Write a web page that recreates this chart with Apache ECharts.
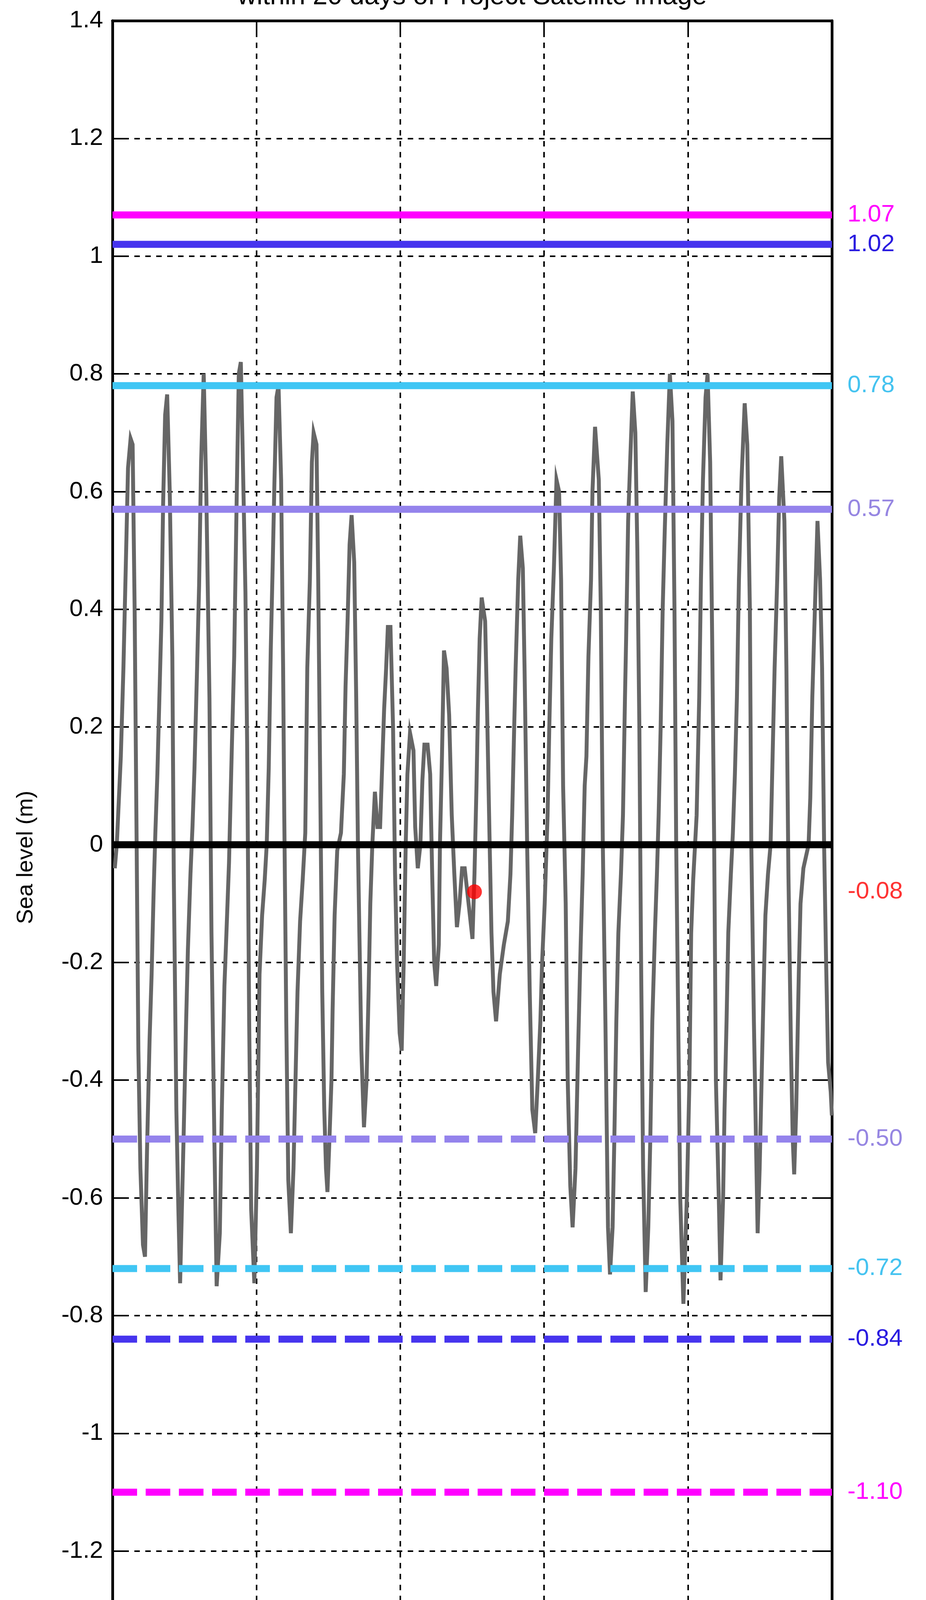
<!DOCTYPE html>
<html><head><meta charset="utf-8">
<script src="https://cdn.jsdelivr.net/npm/echarts@6/dist/echarts.min.js"></script>
<style>html,body{margin:0;padding:0;background:#fff}#c{width:2371px;height:4462px}</style>
</head><body><div id="c"></div>
<script>
// ---------- data ----------
const titleText = 'within 20 days of Project Satellite image';
const xTickLabels = ['07/01/2012','12/01/2012','17/01/2012','22/01/2012','27/01/2012','01/02/2012'];
const xMin = 0, xMax = 25, xStep = 5;           // days since 07/01/2012
const yMin = -1.4, yMax = 1.4, yStep = 0.2;

// days since 07/01/2012 00:00
const tideDay = [
0.08,0.15,0.29,0.38,0.475,0.54,0.63,0.70,0.77,0.84,0.90,0.97,1.06,1.13,1.20,1.29,1.36,1.43,1.49,1.56,
1.63,1.70,1.76,1.83,1.90,1.99,2.08,2.13,2.22,2.29,2.35,2.47,2.56,2.62,2.71,2.78,2.85,2.94,3.01,3.08,
3.17,3.26,3.37,3.44,3.55,3.62,3.73,3.80,3.89,3.96,4.05,4.14,4.23,4.32,4.39,4.46,4.52,4.62,4.68,4.75,
4.82,4.93,5.02,5.11,5.20,5.29,5.36,5.43,5.50,5.57,5.63,5.70,5.77,5.86,5.93,5.97,6.04,6.11,6.20,6.29,
6.36,6.43,6.52,6.61,6.70,
6.77,6.86,6.93,6.99,7.09,7.15,7.22,7.29,7.36,7.42,7.47,7.54,7.61,7.65,7.72,7.81,7.94,8.04,8.10,8.17,
8.24,8.31,8.40,8.47,8.53,8.58,8.65,8.74,8.83,8.90,8.96,9.03,9.12,9.21,9.30,9.37,9.44,9.51,9.57,9.66,
9.75,9.82,9.89,9.98,10.05,10.12,10.19,10.25,10.34,10.46,10.52,10.61,10.70,10.77,10.84,10.95,11.04,11.11,11.18,11.25,
11.34,11.38,11.45,11.52,11.61,11.70,11.79,11.88,11.97,12.06,12.15,12.24,12.33,12.42,12.51,12.58,12.65,12.70,12.76,12.83,
12.95,13.01,13.10,13.17,13.24,13.33,
13.46,13.60,13.74,13.83,13.89,13.96,14.01,14.10,14.17,14.26,14.32,14.41,14.50,14.59,14.69,14.78,14.87,14.93,15.02,15.12,
15.18,15.25,15.34,15.43,15.52,15.59,15.66,15.75,15.82,15.91,15.99,16.09,16.18,16.27,16.34,16.41,16.47,16.54,16.63,16.68,
16.77,16.90,16.97,17.04,17.13,17.22,17.29,17.38,17.44,17.51,17.58,17.67,17.74,17.81,17.85,17.92,17.99,18.08,18.17,18.24,
18.31,18.37,18.44,18.53,18.62,18.69,18.76,18.85,18.92,18.98,19.05,19.12,19.19,19.28,19.37,
19.46,19.53,19.59,19.66,19.73,19.84,19.96,20.05,20.11,20.18,20.30,20.39,20.45,20.52,20.61,20.68,20.77,20.84,20.91,20.97,
21.07,21.13,21.22,21.27,21.34,21.40,21.49,21.56,21.63,21.70,21.77,21.86,21.97,22.06,22.15,22.20,22.29,22.38,22.42,22.49,
22.58,22.65,22.69,22.78,22.87,22.94,23.01,23.10,23.17,23.24,23.35,23.42,23.49,23.58,23.64,23.69,23.76,23.85,23.91,24.01,
24.10,24.19,24.25,24.32,24.41,24.50,24.59,24.66,24.73,24.80,24.87,24.96,25.00
];
// sea level (m)
const tideLevel = [
-0.04,0.00,0.15,0.30,0.50,0.64,0.69,0.68,0.40,0.00,-0.35,-0.55,-0.68,-0.70,-0.52,-0.33,-0.22,-0.08,0.02,0.12,
0.25,0.38,0.58,0.73,0.765,0.60,0.32,-0.05,-0.45,-0.62,-0.745,-0.50,-0.30,-0.18,-0.05,0.03,0.13,0.30,0.44,0.65,
0.80,0.60,0.25,-0.15,-0.53,-0.75,-0.66,-0.45,-0.24,-0.15,-0.03,0.15,0.32,0.60,0.80,0.82,0.68,0.43,0.17,-0.30,
-0.62,-0.745,-0.55,-0.22,-0.12,-0.06,0.00,0.13,0.33,0.48,0.62,0.76,0.78,0.62,0.30,0.05,-0.30,-0.57,-0.66,-0.55,
-0.40,-0.25,-0.13,-0.06,0.02,
0.30,0.45,0.65,0.70,0.68,0.45,0.10,-0.25,-0.45,-0.55,-0.59,-0.50,-0.40,-0.28,-0.12,-0.01,0.02,0.12,0.27,0.38,
0.51,0.56,0.48,0.25,0.00,-0.15,-0.35,-0.48,-0.40,-0.25,-0.10,0.00,0.09,0.03,0.03,0.13,0.23,0.30,0.37,0.37,
0.20,-0.05,-0.20,-0.32,-0.35,-0.20,0.00,0.12,0.19,0.16,0.03,-0.04,0.00,0.11,0.17,0.17,0.12,-0.05,-0.20,-0.24,
-0.17,0.00,0.15,0.33,0.30,0.22,0.05,-0.05,-0.14,-0.10,-0.04,-0.04,-0.08,-0.12,-0.16,-0.05,0.10,0.23,0.35,0.42,
0.38,0.25,0.02,-0.15,-0.25,-0.30,
-0.22,-0.17,-0.13,-0.05,0.05,0.20,0.30,0.45,0.525,0.47,0.30,0.00,-0.25,-0.45,-0.49,-0.40,-0.30,-0.20,-0.10,0.05,
0.20,0.35,0.47,0.62,0.60,0.45,0.10,-0.10,-0.40,-0.58,-0.65,-0.55,-0.35,-0.17,-0.05,0.10,0.15,0.32,0.45,0.60,
0.71,0.62,0.40,0.00,-0.30,-0.65,-0.73,-0.65,-0.50,-0.30,-0.15,-0.05,0.05,0.25,0.35,0.55,0.65,0.77,0.70,0.50,
0.20,-0.20,-0.55,-0.76,-0.65,-0.50,-0.30,-0.15,-0.05,0.05,0.20,0.40,0.53,0.68,0.80,
0.72,0.40,0.00,-0.30,-0.60,-0.78,-0.60,-0.40,-0.15,-0.06,0.05,0.25,0.45,0.62,0.76,0.80,0.65,0.35,0.00,-0.40,
-0.60,-0.74,-0.60,-0.45,-0.30,-0.15,-0.05,0.02,0.12,0.25,0.45,0.62,0.75,0.68,0.40,0.00,-0.30,-0.55,-0.66,-0.55,
-0.35,-0.20,-0.12,-0.05,0.00,0.15,0.30,0.45,0.59,0.66,0.55,0.30,-0.05,-0.35,-0.50,-0.56,-0.45,-0.22,-0.10,-0.04,
-0.02,0.00,0.08,0.25,0.40,0.55,0.45,0.30,0.00,-0.20,-0.37,-0.42,-0.46
];

const thresholdLevels = [1.07, 1.02, 0.78, 0.57, -0.50, -0.72, -0.84, -1.10];
const thresholdLineColors = ['#FF00FF','#4634EE','#40C6F4','#9483EC','#9483EC','#40C6F4','#4634EE','#FF00FF'];
const thresholdTextColors = ['#FF00FF','#2A1CE0','#45C3F0','#9686E2','#9686E2','#45C3F0','#2A1CE0','#FF00FF'];
const thresholdDashed = [false,false,false,false,true,true,true,true];
const referenceLevel = 0;
const satelliteDay = 12.58;
const satelliteLevel = -0.08;

// ---------- chart ----------
const FONT = 'Liberation Sans, Arial, sans-serif';
const chart = echarts.init(document.getElementById('c'), null, {renderer: 'canvas'});

const tidePoints = tideDay.map((d, i) => [d, tideLevel[i]]);

const series = [{
  type: 'line', name: 'tide', data: tidePoints, showSymbol: false, symbol: 'none',
  lineStyle: {color: '#666666', width: 10, join: 'miter'}, z: 2, silent: true
}];

thresholdLevels.forEach((lv, i) => {
  series.push({
    type: 'line', data: [[xMin, lv], [xMax, lv]], symbol: 'none', z: 3, silent: true,
    lineStyle: {color: thresholdLineColors[i], width: 18, type: thresholdDashed[i] ? [63, 22] : 'solid', cap: 'butt'},
    endLabel: {show: true, formatter: p => p.value[1].toFixed(2), color: thresholdTextColors[i],
      fontSize: 62, fontFamily: FONT, distance: 40}
  });
});

series.push({
  type: 'line', data: [[xMin, referenceLevel], [xMax, referenceLevel]], symbol: 'none', z: 4, silent: true,
  lineStyle: {color: '#000', width: 18}
});

series.push({
  type: 'scatter', data: [[satelliteDay, satelliteLevel]], symbol: 'circle', symbolSize: 38, z: 6,
  itemStyle: {color: '#FF0000'}, silent: true
});
series.push({
  type: 'scatter', data: [[xMax, satelliteLevel]], symbolSize: 1, clip: false, z: 6,
  itemStyle: {color: 'rgba(0,0,0,0)'}, silent: true,
  label: {show: true, position: 'right', distance: 40, formatter: p => p.value[1].toFixed(2),
    color: '#FF0000', fontSize: 62, fontFamily: FONT}
});

const tickStyle = {show: true, inside: true, length: 42, lineStyle: {color: '#000', width: 4}};
const axisLineStyle = {show: true, onZero: false, lineStyle: {color: '#000', width: 7}};
const gridLine = {show: true, lineStyle: {color: '#000', width: 4, type: [14, 14]}};

chart.setOption({
  animation: false,
  backgroundColor: '#fff',
  grid: {left: 288, right: 241, top: 53, bottom: 190, containLabel: false},
  graphic: [
    {type: 'text', x: 1209, y: 26, z: 10,
     style: {text: titleText, fill: '#000', fontSize: 68, fontFamily: FONT, align: 'center', verticalAlign: 'bottom'}},
    {type: 'text', x: 67, y: 2195, rotation: Math.PI / 2, z: 10,
     style: {text: 'Sea level (m)', fill: '#000', fontSize: 58, fontFamily: FONT, align: 'center', verticalAlign: 'middle'}}
  ],
  xAxis: [{
    type: 'value', min: xMin, max: xMax, interval: xStep, position: 'bottom',
    name: 'Date', nameLocation: 'middle', nameGap: 108,
    nameTextStyle: {fontSize: 64, fontFamily: FONT, color: '#000'},
    axisLine: axisLineStyle, axisTick: tickStyle, splitLine: gridLine,
    axisLabel: {formatter: v => xTickLabels[Math.round((v - xMin) / xStep)], fontSize: 62, fontFamily: FONT, color: '#000', margin: 24, showMinLabel: true, showMaxLabel: true}
  }, {
    type: 'value', min: xMin, max: xMax, interval: xStep, position: 'top',
    axisLine: axisLineStyle, axisTick: tickStyle, splitLine: {show: false}, axisLabel: {show: false}
  }],
  yAxis: [{
    type: 'value', min: yMin, max: yMax, interval: yStep, position: 'left',
    axisLine: axisLineStyle, axisTick: tickStyle, splitLine: gridLine,
    axisLabel: {formatter: v => String(Math.round(v * 10) / 10), fontSize: 62, fontFamily: FONT, color: '#000', margin: 24}
  }, {
    type: 'value', min: yMin, max: yMax, interval: yStep, position: 'right',
    axisLine: axisLineStyle, axisTick: tickStyle, splitLine: {show: false}, axisLabel: {show: false}
  }],
  series: series
});
</script></body></html>
